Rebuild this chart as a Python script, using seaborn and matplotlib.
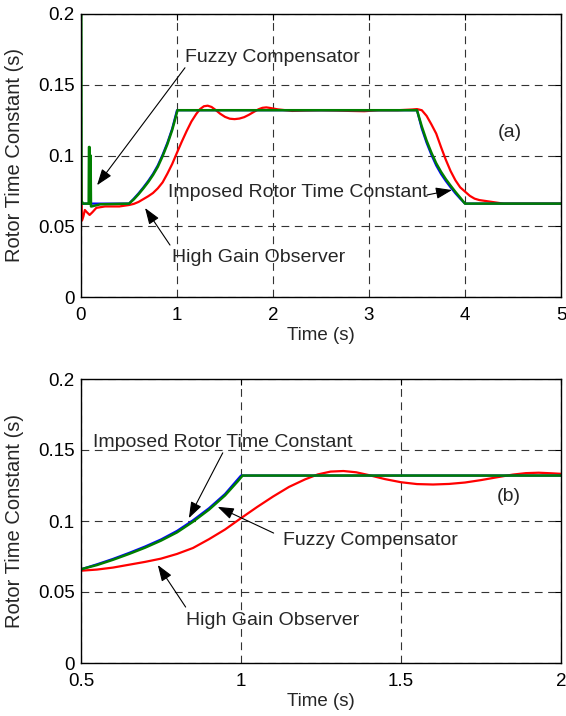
import matplotlib
matplotlib.use("Agg")
import matplotlib.pyplot as plt
import seaborn as sns
import pandas as pd
from matplotlib.ticker import FixedLocator, FixedFormatter

# ---------------- data ----------------
# Imposed rotor time constant (blue)
t_ref = [0.0, 0.5, 0.55, 0.6, 0.65, 0.7, 0.75, 0.8, 0.85, 0.9, 0.95, 1.0,
         3.5, 3.55, 3.6, 3.65, 3.7, 3.75, 3.8, 3.85, 3.9, 3.95, 4.0, 5.0]
tau_ref = [0.066, 0.066, 0.0695, 0.0733, 0.0775, 0.082, 0.087, 0.093, 0.1005, 0.109, 0.119, 0.132,
           0.132, 0.119, 0.109, 0.1005, 0.093, 0.087, 0.082, 0.0775, 0.0733, 0.0695, 0.066, 0.066]

# Fuzzy compensator (green)
t_fuzzy = [0.0, 0.003, 0.006, 0.02, 0.08, 0.083, 0.089, 0.092, 0.097, 0.1, 0.104, 0.11, 0.2,
           0.5, 0.55, 0.6, 0.65, 0.7, 0.75, 0.8, 0.85, 0.9, 0.95, 0.99, 1.005,
           3.5, 3.55, 3.6, 3.65, 3.7, 3.75, 3.8, 3.85, 3.9, 3.95, 4.0, 5.0]
tau_fuzzy = [0.2, 0.2, 0.068, 0.066, 0.066, 0.106, 0.106, 0.066, 0.066, 0.1, 0.064, 0.064, 0.0655,
             0.066, 0.069, 0.0727, 0.0768, 0.0812, 0.0862, 0.092, 0.0995, 0.108, 0.118, 0.128, 0.132,
             0.132, 0.1205, 0.1105, 0.102, 0.0945, 0.0885, 0.0833, 0.0787, 0.0743, 0.0702, 0.066, 0.066]

# High gain observer (red)
t_hgo = [0.0, 0.01, 0.025, 0.04, 0.06, 0.09, 0.12, 0.16, 0.25, 0.4, 0.5, 0.55, 0.6, 0.65, 0.7,
         0.75, 0.8, 0.85, 0.9, 0.95, 1.0, 1.05, 1.1, 1.15, 1.2, 1.24, 1.28, 1.32, 1.36, 1.4,
         1.45, 1.5, 1.55, 1.6, 1.65, 1.7, 1.75, 1.8, 1.85, 1.89, 1.93, 1.97, 2.05, 2.2, 2.35,
         2.5, 2.65, 2.8, 2.95, 3.1, 3.3, 3.45, 3.5, 3.55, 3.6, 3.65, 3.7, 3.75, 3.8, 3.85, 3.9,
         3.95, 4.0, 4.05, 4.1, 4.15, 4.2, 4.3, 4.4, 5.0]
tau_hgo = [0.09, 0.054, 0.057, 0.0615, 0.060, 0.058, 0.060, 0.063, 0.064, 0.064, 0.065, 0.0658,
           0.0672, 0.0692, 0.0712, 0.0735, 0.0768, 0.081, 0.0872, 0.094, 0.102, 0.1098, 0.1172,
           0.124, 0.1293, 0.1328, 0.1348, 0.1352, 0.1343, 0.1323, 0.1295, 0.1273, 0.126, 0.1257,
           0.1261, 0.1271, 0.1288, 0.1308, 0.1327, 0.1337, 0.134, 0.1336, 0.1326, 0.1315, 0.1318,
           0.132, 0.1318, 0.1315, 0.1313, 0.132, 0.132, 0.1325, 0.1328, 0.132, 0.128, 0.122,
           0.1155, 0.106, 0.097, 0.089, 0.0825, 0.0775, 0.0745, 0.0715, 0.0695, 0.0685, 0.068,
           0.067, 0.066, 0.066]

y_ticks = [0, 0.05, 0.1, 0.15, 0.2]
y_ticklabels = ["0", "0.05", "0.1", "0.15", "0.2"]
x_ticks_a = [0, 1, 2, 3, 4, 5]
x_ticklabels_a = ["0", "1", "2", "3", "4", "5"]
x_ticks_b = [0.5, 1, 1.5, 2]
x_ticklabels_b = ["0.5", "1", "1.5", "2"]

ylabel = "Rotor Time Constant (s)"
xlabel = "Time (s)"

# ---------------- style ----------------
sns.set_style("white")
plt.rcParams["font.family"] = ["Liberation Sans", "DejaVu Sans"]
FS = 13.5     # tick labels / x label
FS_ANN = 14   # annotation texts
FS_Y = 14.5   # y label
plt.rcParams["font.size"] = FS

fig = plt.figure(figsize=(5.66, 7.16), dpi=100)
W, H = 566, 716
def box(l, t, r, b):
    return [l / W, 1 - b / H, (r - l) / W, (b - t) / H]

ax_a = fig.add_axes(box(81, 14, 561, 297))
ax_b = fig.add_axes(box(81, 379, 561, 663))

df_ref = pd.DataFrame({"t": t_ref, "tau": tau_ref})
df_fz = pd.DataFrame({"t": t_fuzzy, "tau": tau_fuzzy})
df_hg = pd.DataFrame({"t": t_hgo, "tau": tau_hgo})

def draw(ax, xlim, xticks, xticklabels):
    ax.set_axisbelow(True)
    sns.lineplot(data=df_hg, x="t", y="tau", ax=ax, color="#ff0000", lw=1.6,
                 sort=False, estimator=None)
    sns.lineplot(data=df_ref, x="t", y="tau", ax=ax, color="#0000ff", lw=1.6,
                 sort=False, estimator=None)
    sns.lineplot(data=df_fz, x="t", y="tau", ax=ax, color="#007f00", lw=1.8,
                 sort=False, estimator=None)
    ax.set_xlim(*xlim)
    ax.set_ylim(0, 0.2)
    ax.xaxis.set_major_locator(FixedLocator(xticks))
    ax.xaxis.set_major_formatter(FixedFormatter(xticklabels))
    ax.yaxis.set_major_locator(FixedLocator(y_ticks))
    ax.yaxis.set_major_formatter(FixedFormatter(y_ticklabels))
    ax.grid(True, color="#333333", linestyle=(0, (7, 5)), linewidth=0.8)
    ax.tick_params(direction="in", length=4, width=0.8, labelsize=FS,
                   top=True, right=True, colors="black")
    ax.tick_params(axis="x", pad=7.5)
    ax.tick_params(axis="y", pad=4.5)
    for s in ax.spines.values():
        s.set_color("black")
        s.set_linewidth(1.0)
        s.set_visible(True)
    ax.set_xlabel(xlabel, fontsize=FS, labelpad=2)
    ax.set_ylabel(ylabel, fontsize=FS_Y)
    ax.yaxis.set_label_coords(-0.118, 0.5)

draw(ax_a, (0, 5), x_ticks_a, x_ticklabels_a)
draw(ax_b, (0.5, 2), x_ticks_b, x_ticklabels_b)

arrow = dict(arrowstyle="-|>,head_length=0.9,head_width=0.32", color="black",
             lw=0.8, shrinkA=0, shrinkB=0, mutation_scale=11)

# ---- annotations (a) ----
ax_a.text(1.083, 0.169, "Fuzzy Compensator", ha="left", va="center", fontsize=FS_ANN)
ax_a.annotate("", xy=(0.167, 0.079), xytext=(1.083, 0.162), arrowprops=arrow)
ax_a.text(0.906, 0.0735, "Imposed Rotor Time Constant", ha="left", va="center", fontsize=FS_ANN)
ax_a.annotate("", xy=(3.865, 0.0756), xytext=(3.604, 0.0721), arrowprops=arrow)
ax_a.text(0.948, 0.0276, "High Gain Observer", ha="left", va="center", fontsize=FS_ANN)
ax_a.annotate("", xy=(0.667, 0.0629), xytext=(0.927, 0.0367), arrowprops=arrow)
ax_a.text(4.47, 0.1166, "(a)", ha="center", va="center", fontsize=FS_ANN)

# ---- annotations (b) ----
ax_b.text(0.537, 0.155, "Imposed Rotor Time Constant", ha="left", va="center", fontsize=FS_ANN)
ax_b.annotate("", xy=(0.837, 0.102), xytext=(0.943, 0.148), arrowprops=arrow)
ax_b.text(1.13, 0.0866, "Fuzzy Compensator", ha="left", va="center", fontsize=FS_ANN)
ax_b.annotate("", xy=(0.927, 0.110), xytext=(1.102, 0.0915), arrowprops=arrow)
ax_b.text(0.827, 0.0296, "High Gain Observer", ha="left", va="center", fontsize=FS_ANN)
ax_b.annotate("", xy=(0.74, 0.069), xytext=(0.827, 0.0394), arrowprops=arrow)
ax_b.text(1.838, 0.117, "(b)", ha="center", va="center", fontsize=FS_ANN)

fig.savefig("out.png", dpi=100, facecolor="white")
